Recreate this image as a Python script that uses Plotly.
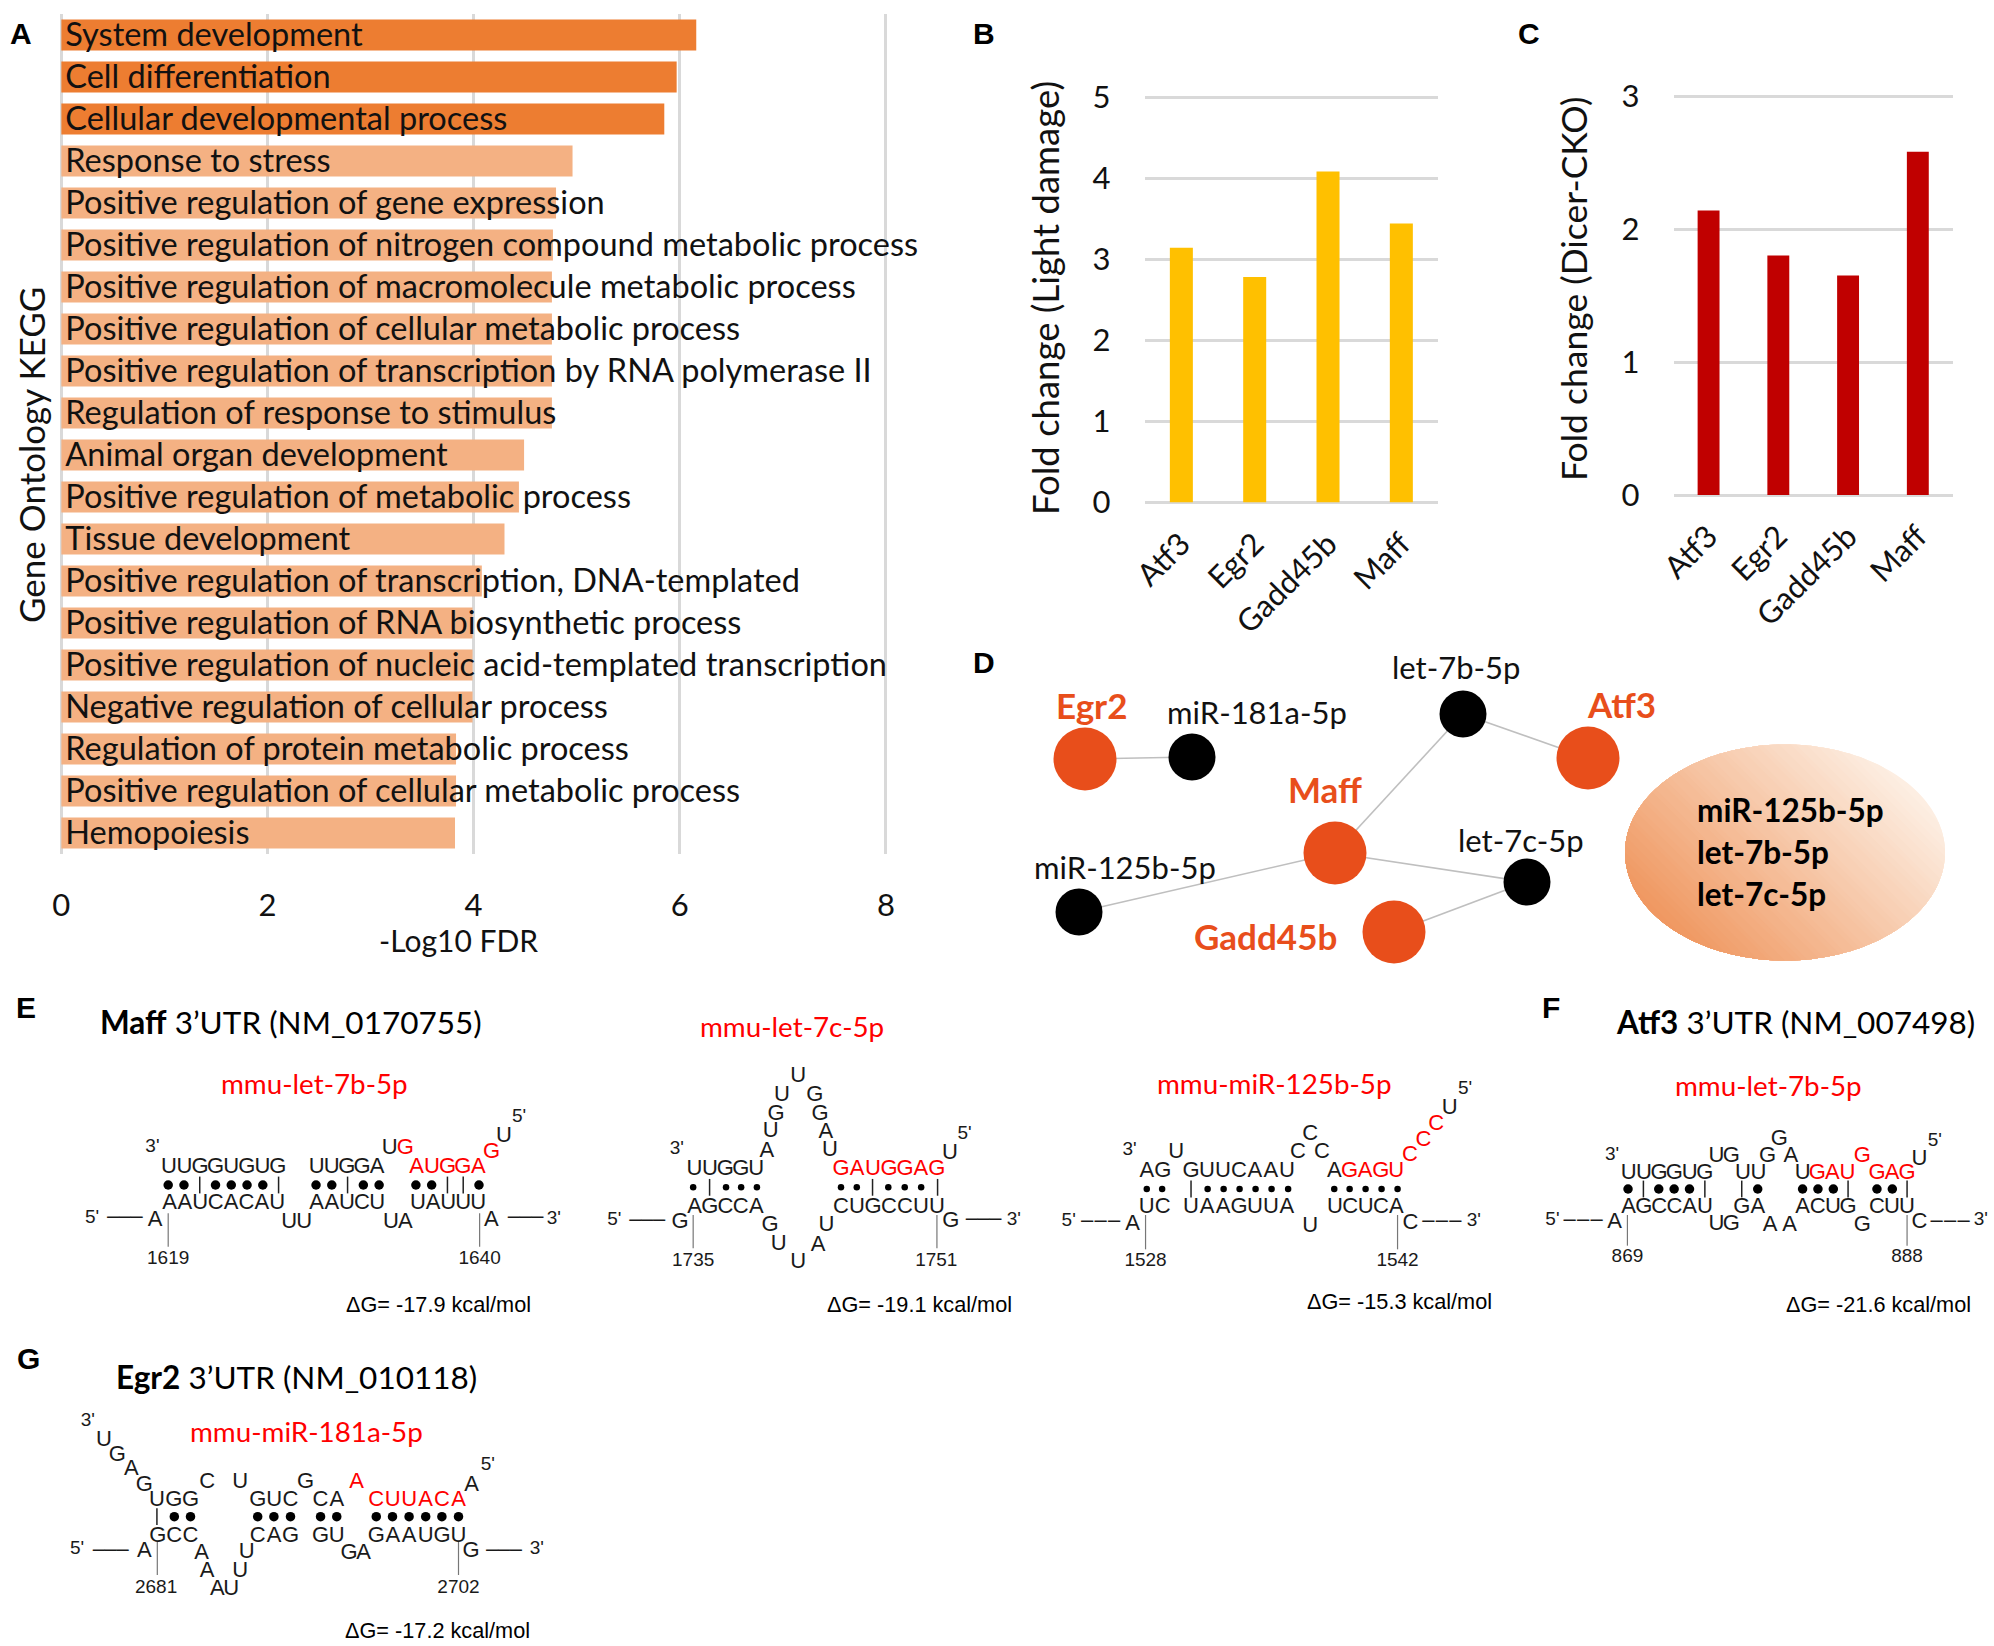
import numpy as np
import plotly.graph_objects as go

# ---------- chart data ----------
GO_TERMS = ["System development", "Cell differentiation", "Cellular developmental process", "Response to stress",
            "Positive regulation of gene expression", "Positive regulation of nitrogen compound metabolic process",
            "Positive regulation of macromolecule metabolic process", "Positive regulation of cellular metabolic process",
            "Positive regulation of transcription by RNA polymerase II", "Regulation of response to stimulus",
            "Animal organ development", "Positive regulation of metabolic process", "Tissue development",
            "Positive regulation of transcription, DNA-templated", "Positive regulation of RNA biosynthetic process",
            "Positive regulation of nucleic acid-templated transcription", "Negative regulation of cellular process",
            "Regulation of protein metabolic process", "Positive regulation of cellular metabolic process", "Hemopoiesis"]
GO_FDR = [6.16, 5.97, 5.85, 4.96, 4.80, 4.77, 4.76, 4.76, 4.76, 4.76,
          4.49, 4.44, 4.30, 4.08, 3.99, 3.99, 3.99, 3.83, 3.83, 3.82]
GENES = ["Atf3", "Egr2", "Gadd45b", "Maff"]
LIGHT_DAMAGE = [3.14, 2.78, 4.08, 3.44]
DICER_CKO = [2.14, 1.80, 1.65, 2.58]

GENE_NODES = ["Egr2", "Atf3", "Maff", "Gadd45b"]
GENE_X = [1085, 1588, 1335, 1394]
GENE_Y = [759, 758, 853, 932]
MIR_NODES = ["miR-181a-5p", "let-7b-5p", "let-7c-5p", "miR-125b-5p"]
MIR_X = [1192, 1463, 1527, 1079]
MIR_Y = [757, 714, 882, 912]
EDGES = [("Egr2", "miR-181a-5p"), ("let-7b-5p", "Atf3"), ("Maff", "let-7b-5p"),
         ("Maff", "let-7c-5p"), ("Maff", "miR-125b-5p"), ("Gadd45b", "let-7c-5p")]
SHARED_MIRS = ["miR-125b-5p", "let-7b-5p", "let-7c-5p"]

W, H = 1994, 1646
ORANGE, LIGHT, NODE, RED = "#ED7D31", "#F4B183", "#E84E1B", "#FF0000"
GRID = "#D9D9D9"
INK = "#111111"
SANS = "Lato"
ARIAL = "Liberation Sans"


def dx(a, b):
    return [a / W, b / W]


def dy(top, bot):
    return [1 - bot / H, 1 - top / H]


fig = go.Figure()
RANK = list(range(len(GO_TERMS)))
TEXT_NUDGE = 0.07

# ---------- panel A ----------
fig.add_trace(go.Bar(x=GO_FDR, y=RANK, orientation="h", xaxis="x", yaxis="y", showlegend=False, width=0.74,
                     marker=dict(color=[ORANGE] * 3 + [LIGHT] * 17, line_width=0), hovertext=GO_TERMS))
fig.add_trace(go.Scatter(x=[0.04] * len(GO_TERMS), y=[r + TEXT_NUDGE for r in RANK], text=GO_TERMS, mode="text",
                         textposition="middle right", cliponaxis=False, showlegend=False,
                         textfont=dict(family=SANS, size=32.5, color=INK), xaxis="x", yaxis="y"))
# ---------- panels B, C ----------
fig.add_trace(go.Bar(x=GENES, y=LIGHT_DAMAGE, marker=dict(color="#FFC000", line_width=0), width=0.314,
                     xaxis="x2", yaxis="y2", showlegend=False))
fig.add_trace(go.Bar(x=GENES, y=DICER_CKO, marker=dict(color="#C00000", line_width=0), width=0.314,
                     xaxis="x3", yaxis="y3", showlegend=False))

# ---------- overlay in page pixels ----------
pos = dict(zip(GENE_NODES + MIR_NODES, zip(GENE_X + MIR_X, GENE_Y + MIR_Y)))
ex, ey = [], []
for a, b in EDGES:
    ex += [pos[a][0], pos[b][0], None]
    ey += [pos[a][1], pos[b][1], None]
ov = dict(xaxis="x4", yaxis="y4", showlegend=False, hoverinfo="skip")
fig.add_trace(go.Scatter(x=ex, y=ey, mode="lines", line=dict(color="#BFBFBF", width=1.6), **ov))
fig.add_trace(go.Scatter(x=GENE_X, y=GENE_Y, mode="markers", marker=dict(color=NODE, size=63, line_width=0), **ov))
fig.add_trace(go.Scatter(x=MIR_X, y=MIR_Y, mode="markers", marker=dict(color="black", size=47, line_width=0), **ov))

# ---------- shared-miRNA ellipse with diagonal shading ----------
cx, cy, rx, ry = 1785, 852.5, 160, 108
th = np.linspace(0, 2 * np.pi, 181)[:-1]
ex_pts, ey_pts = cx + rx * np.cos(th), cy + ry * np.sin(th)
proj = -(ex_pts - cx) + (ey_pts - cy)
shapes = []
n = 44
for i in range(n):
    t = proj.min() + (proj.max() - proj.min()) * i / n
    f = i / (n - 1)
    col = "rgb(%d,%d,%d)" % (253 + (240 - 253) * f, 238 + (152 - 238) * f, 226 + (98 - 226) * f)
    keep = proj >= t
    path = "M" + " L".join("%.1f,%.1f" % p for p in zip(ex_pts[keep], ey_pts[keep])) + " Z"
    shapes.append(dict(type="path", path=path, xref="x4", yref="y4", fillcolor=col, line_width=0, layer="below"))

# ---------- annotations ----------
ann = []


def note(txt, x, y, size=28, color=INK, family=SANS, anchor="center", angle=0):
    ann.append(dict(text=txt, x=x, y=y, xref="x4", yref="y4", showarrow=False, xanchor=anchor, yanchor="middle",
                    textangle=angle, font=dict(family=family, size=size, color=color)))


for lbl, x, y in [("A", 21, 33), ("B", 984, 33), ("C", 1529, 33), ("D", 984, 662), ("E", 26, 1007),
                  ("F", 1551, 1007), ("G", 28, 1358)]:
    note("<b>%s</b>" % lbl, x, y, 30, "black", ARIAL)
note("Gene Ontology KEGG", 31, 455, 35, angle=-90)
note("-Log10 FDR", 458, 940, 30)
note("Fold change (Light damage)", 1045, 298, 36.5, angle=-90)
note("Fold change (Dicer-CKO)", 1573, 289, 35.5, angle=-90)

for lbl, x, y in [("Egr2", 1091, 705), ("Atf3", 1621, 704), ("Maff", 1325, 789), ("Gadd45b", 1265, 936)]:
    note("<b>%s</b>" % lbl, x, y, 35, NODE)
for lbl, x, y in [("miR-181a-5p", 1257, 712), ("let-7b-5p", 1456, 667), ("let-7c-5p", 1521, 840), ("miR-125b-5p", 1125, 867)]:
    note(lbl, x, y, 31)
for lbl, y in zip(SHARED_MIRS, [810, 852, 894]):
    note("<b>%s</b>" % lbl, 1695, y, 31.5, "black", anchor="left")

note("<b>Maff</b> 3’UTR (NM_0170755)", 98, 1022, 31.5, "black", anchor="left")
note("<b>Atf3</b> 3’UTR (NM_007498)", 1614, 1022, 31.5, "black", anchor="left")
note("<b>Egr2</b> 3’UTR (NM_010118)", 114, 1377, 31.5, "black", anchor="left")

# ---------- RNA duplex drawings ----------
Z3 = lambda x, y: (x / 1.522, 980 + y / 3)
Z4 = lambda x, y: (1030 + x / 1.627, 980 + y / 3)
Z5 = lambda x, y: (x / 2.53, 1320 + y / 3)

letters = {"black": ([], [], []), "red": ([], [], [])}
primes = ([], [], [])
nums = ([], [], [])
dots = {9.5: ([], []), 6.5: ([], [])}
bars = ([], [])
stems = ([], [])
DASH = "–––"


def row(z, s, x0, x1, y, col="black"):
    for i, ch in enumerate(s):
        X = x0 if len(s) == 1 else x0 + (x1 - x0) * i / (len(s) - 1)
        px, py = z(X, y)
        letters[col][0].append(px)
        letters[col][1].append(py + 1)
        letters[col][2].append(ch)


def one(z, s, x, y, col="black"):
    row(z, s, x, x, y, col)


def prime(z, s, x, y):
    px, py = z(x, y)
    primes[0].append(px)
    primes[1].append(py)
    primes[2].append(s)


def number(z, s, x, y):
    px, py = z(x, y)
    nums[0].append(px)
    nums[1].append(py)
    nums[2].append(s)


def pairs(z, s, xs, y, size):
    for ch, X in zip(s, xs):
        px, py = z(X, y)
        if ch == "o":
            dots[size][0].append(px)
            dots[size][1].append(py)
        else:
            bars[0].append(px)
            bars[1].append(py)


def stem(z, x, y0, y1):
    a, b = z(x, y0), z(x, y1)
    stems[0].extend([a[0], b[0], None])
    stems[1].extend([a[1], b[1], None])


def label(z, s, x, y):
    px, py = z(x, y)
    note(s, px, py - 2, 27.8, RED)


def dg(z, s, x, y):
    px, py = z(x, y)
    note(s, px, py, 21.7, "black", ARIAL)


# let-7b / Maff
z = Z3
label(z, "mmu-let-7b-5p", 478, 316)
prime(z, "3'", 232, 502); prime(z, "5'", 790, 413)
one(z, "U", 593, 503); one(z, "G", 617, 503, "red"); one(z, "G", 748, 513, "red"); one(z, "U", 767, 466)
row(z, "UUGGUGUG", 257, 423, 558); row(z, "UUGGA", 482, 574, 558); row(z, "AUGGA", 634, 728, 558, "red")
pairs(z, "oo|oooo|oo|oooo||o", [256, 280, 304, 328, 352, 376, 400, 424, 481, 505, 529, 553, 577, 633, 657, 681, 705, 729], 615, 9.5)
row(z, "AAUCACAU", 258, 422, 668); row(z, "AAUCU", 482, 574, 668); row(z, "UAUUU", 636, 728, 668)
prime(z, "5'", 140, 715); row(z, DASH, 172, 208, 710); one(z, "A", 236, 718)
row(z, "UU", 440, 463, 725); row(z, "UA", 595, 617, 725); one(z, "A", 748, 718)
row(z, DASH, 782, 818, 710); prime(z, "3'", 843, 717)
stem(z, 256, 700, 800); stem(z, 730, 700, 800)
number(z, "1619", 256, 837); number(z, "1640", 730, 837)
dg(z, "ΔG= -17.9 kcal/mol", 667, 972)

# let-7c / Maff
label(z, "mmu-let-7c-5p", 1205, 146)
one(z, "U", 1215, 285)
for X, Y, c in [(1190, 342, "U"), (1240, 342, "G"), (1181, 400, "G"), (1248, 400, "G"), (1173, 452, "U"),
                (1257, 455, "A"), (1167, 510, "A"), (1263, 508, "U"), (1446, 516, "U")]:
    one(z, c, X, Y)
prime(z, "3'", 1030, 507); prime(z, "5'", 1468, 462)
row(z, "UUGGU", 1057, 1151, 565); row(z, "GAUGGAG", 1280, 1426, 565, "red")
pairs(z, "o|ooo" + "oo|ooo|", [1055, 1080, 1105, 1128, 1152, 1280, 1304, 1328, 1352, 1377, 1402, 1427], 622, 6.5)
row(z, "AGCCA", 1057, 1151, 678); row(z, "CUGCCUU", 1280, 1426, 678)
prime(z, "5'", 935, 720); row(z, DASH, 967, 1003, 718); one(z, "G", 1035, 725)
for X, Y, c in [(1172, 732, "G"), (1185, 790, "U"), (1215, 845, "U"), (1245, 792, "A"), (1258, 732, "U"), (1447, 722, "G")]:
    one(z, c, X, Y)
row(z, DASH, 1479, 1515, 716); prime(z, "3'", 1543, 722)
stem(z, 1055, 705, 805); stem(z, 1426, 705, 805)
number(z, "1735", 1055, 843); number(z, "1751", 1425, 843)
dg(z, "ΔG= -19.1 kcal/mol", 1400, 972)

# miR-125b / Maff
z = Z4
label(z, "mmu-miR-125b-5p", 398, 315)
prime(z, "3'", 162, 512); prime(z, "5'", 708, 327)
for X, Y, c in [(238, 513, "U"), (456, 460, "C"), (436, 513, "C"), (475, 513, "C"), (683, 382, "U")]:
    one(z, c, X, Y)
for X, Y in [(661, 430), (640, 478), (618, 522)]:
    one(z, "C", X, Y, "red")
row(z, "AG", 190, 216, 570); row(z, "GUUCAAU", 262, 418, 570); one(z, "A", 495, 570); row(z, "GAGU", 520, 596, 570, "red")
pairs(z, "oo|oooooo" + "ooooo", [190, 215, 262, 289, 315, 341, 367, 393, 420, 495, 520, 546, 572, 598], 627, 6.5)
row(z, "UC", 190, 216, 680); row(z, "UAAGUUA", 262, 418, 680); row(z, "UCUCA", 496, 596, 680)
prime(z, "5'", 63, 723); row(z, DASH, 93, 137, 720); one(z, "A", 167, 730); one(z, "U", 456, 735); one(z, "C", 619, 727)
row(z, DASH, 648, 692, 720); prime(z, "3'", 722, 723)
stem(z, 188, 705, 808); stem(z, 598, 705, 808)
number(z, "1528", 188, 845); number(z, "1542", 598, 845)
dg(z, "ΔG= -15.3 kcal/mol", 601, 963)

# let-7b / Atf3
label(z, "mmu-let-7b-5p", 1202, 322)
prime(z, "3'", 947, 527); prime(z, "5'", 1472, 485)
for X, Y, c in [(1447, 535, "U"), (1117, 527, "U"), (1141, 527, "G"), (1200, 527, "G"), (1219, 476, "G"), (1238, 527, "A")]:
    one(z, c, X, Y)
one(z, "G", 1354, 527, "red")
row(z, "UUGGUG", 974, 1098, 577); row(z, "UU", 1160, 1185, 577); one(z, "U", 1257, 577)
row(z, "GAU", 1281, 1330, 577, "red"); row(z, "GAG", 1378, 1427, 577, "red")
pairs(z, "o|ooo|" + "|o" + "ooo|" + "oo|", [973, 998, 1023, 1048, 1073, 1098, 1158, 1184, 1257, 1282, 1307, 1331, 1378, 1403, 1427], 627, 9.5)
row(z, "AGCCAU", 974, 1098, 680); row(z, "GA", 1158, 1184, 680); row(z, "ACUG", 1257, 1331, 680); row(z, "CUU", 1378, 1427, 680)
prime(z, "5'", 850, 720); row(z, DASH, 878, 922, 718); one(z, "A", 951, 725)
for X, Y, c in [(1117, 730, "U"), (1141, 730, "G"), (1204, 732, "A"), (1236, 732, "A"), (1354, 732, "G"), (1447, 725, "C")]:
    one(z, c, X, Y)
row(z, DASH, 1475, 1519, 720); prime(z, "3'", 1547, 722)
stem(z, 972, 705, 797); stem(z, 1427, 705, 797)
number(z, "869", 972, 832); number(z, "888", 1427, 832)
dg(z, "ΔG= -21.6 kcal/mol", 1380, 972)

# miR-181a / Egr2
z = Z5
label(z, "mmu-miR-181a-5p", 775, 340)
prime(z, "3'", 222, 305); prime(z, "5'", 1234, 437)
for X, Y, c in [(263, 358, "U"), (297, 404, "G"), (332, 445, "A"), (365, 493, "G"), (524, 484, "C"),
                (608, 484, "U"), (773, 484, "G"), (1193, 492, "A")]:
    one(z, c, X, Y)
one(z, "A", 902, 484, "red")
row(z, "UGG", 397, 482, 538); row(z, "GUC", 652, 735, 538); row(z, "CA", 811, 852, 538); row(z, "CUUACA", 952, 1160, 538, "red")
pairs(z, "|oo" + "ooo" + "oo" + "oooooo", [397, 441, 482, 652, 693, 735, 811, 852, 952, 993, 1035, 1077, 1118, 1160], 590, 9.5)
row(z, "GCC", 399, 482, 645); row(z, "CAG", 652, 735, 645); row(z, "GU", 811, 852, 645); row(z, "GAAUGU", 952, 1160, 645)
prime(z, "5'", 195, 687); row(z, DASH, 250, 310, 687); one(z, "A", 365, 690)
for X, Y, c in [(510, 696, "A"), (624, 694, "U"), (883, 697, "G"), (920, 697, "A"), (1192, 690, "G"),
                (524, 750, "A"), (608, 750, "U"), (550, 805, "A"), (585, 805, "U")]:
    one(z, c, X, Y)
row(z, DASH, 1245, 1305, 687); prime(z, "3'", 1358, 687)
stem(z, 398, 665, 765); stem(z, 1160, 665, 765)
number(z, "2681", 395, 806); number(z, "2702", 1160, 806)
dg(z, "ΔG= -17.2 kcal/mol", 1107, 932)

# draw duplex layers
fig.add_trace(go.Scatter(x=stems[0], y=stems[1], mode="lines", line=dict(color="#777777", width=1.2), **ov))
for size, (xs, ys) in dots.items():
    fig.add_trace(go.Scatter(x=xs, y=ys, mode="markers", marker=dict(color="black", size=size, line_width=0), **ov))
fig.add_trace(go.Scatter(x=bars[0], y=bars[1], mode="markers",
                         marker=dict(symbol="line-ns", size=12, line=dict(color="#222222", width=1.5)), **ov))
for col, colour in [("black", "#1A1A1A"), ("red", RED)]:
    xs, ys, ts = letters[col]
    fig.add_trace(go.Scatter(x=xs, y=ys, text=ts, mode="text", textposition="middle center",
                             textfont=dict(family=ARIAL, size=22, color=colour), **ov))
fig.add_trace(go.Scatter(x=primes[0], y=primes[1], text=primes[2], mode="text", textposition="middle center",
                         textfont=dict(family=ARIAL, size=19, color="#1A1A1A"), **ov))
fig.add_trace(go.Scatter(x=nums[0], y=nums[1], text=nums[2], mode="text", textposition="middle center",
                         textfont=dict(family=ARIAL, size=19, color="#1A1A1A"), **ov))

tick = dict(family=SANS, size=31, color=INK)
ghost = "rgba(0,0,0,0)"
cat_font = dict(family=SANS, size=31, color=INK)
fig.update_layout(
    template="none",
    width=W, height=H, margin=dict(l=0, r=0, t=0, b=0, pad=0), paper_bgcolor="white", plot_bgcolor="rgba(0,0,0,0)",
    barmode="overlay", showlegend=False, shapes=shapes, annotations=ann,
    xaxis=dict(domain=dx(61.2, 888), anchor="y", range=[0, 8.02], tickvals=[0, 2, 4, 6, 8], showgrid=True, automargin=False,
               gridcolor=GRID, gridwidth=3, zeroline=True, zerolinecolor=GRID, zerolinewidth=3, showline=False,
               ticks="outside", ticklen=24, tickcolor=ghost, tickfont=tick),
    yaxis=dict(domain=dy(14, 854), anchor="x", autorange=False, range=[19.5, -0.5], automargin=False,
               showticklabels=False, showgrid=False, zeroline=False, ticks=""),
    xaxis2=dict(domain=dx(1144.7, 1438), anchor="y2", showgrid=False, zeroline=False, showline=False, automargin=False,
                tickangle=-45, ticks="outside", ticklen=10, tickcolor=ghost,
                tickfont=cat_font, categoryorder="array", categoryarray=GENES),
    yaxis2=dict(domain=dy(94.57, 502.5), anchor="x2", range=[0, 5.03], tickvals=[0, 1, 2, 3, 4, 5], gridcolor=GRID, gridwidth=3, automargin=False,
                zeroline=True, zerolinecolor=GRID, zerolinewidth=3, ticks="outside", ticklen=27, tickcolor=ghost,
                tickfont=tick),
    xaxis3=dict(domain=dx(1673.7, 1952.7), anchor="y3", showgrid=False, zeroline=False, showline=False, automargin=False,
                tickangle=-45, ticks="outside", ticklen=10, tickcolor=ghost,
                tickfont=cat_font, categoryorder="array", categoryarray=GENES),
    yaxis3=dict(domain=dy(93.34, 495), anchor="x3", range=[0, 3.02], tickvals=[0, 1, 2, 3], gridcolor=GRID, gridwidth=3, automargin=False,
                zeroline=True, zerolinecolor=GRID, zerolinewidth=3, ticks="outside", ticklen=27, tickcolor=ghost,
                tickfont=tick),
    xaxis4=dict(domain=[0, 1], anchor="y4", range=[0, W], visible=False, fixedrange=True, automargin=False),
    yaxis4=dict(domain=[0, 1], anchor="x4", range=[H, 0], visible=False, fixedrange=True, automargin=False),
)

fig.write_html("out.html", config=dict(displayModeBar=False),
               post_script="document.body.style.margin='0';document.body.style.overflow='hidden';")
